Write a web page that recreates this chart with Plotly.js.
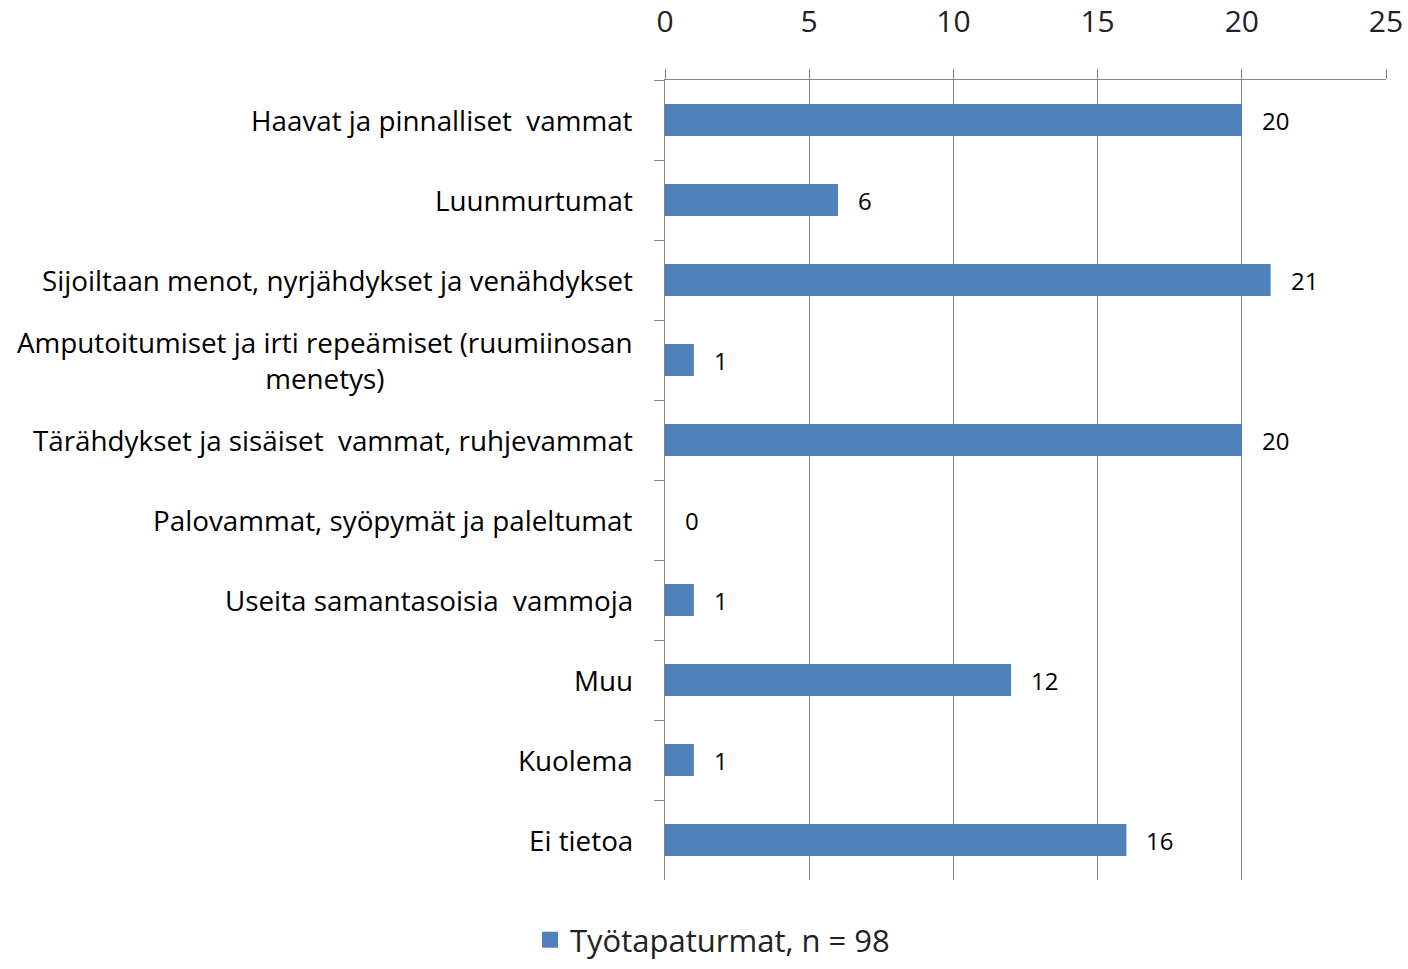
<!DOCTYPE html>
<html>
<head>
<meta charset="utf-8">
<script src="https://cdn.plot.ly/plotly-3.0.1.min.js"></script>
<style>html,body{margin:0;padding:0;background:#fff;}#chart{width:1408px;height:969px;}</style>
</head>
<body>
<div id="chart"></div>
<script>
const categories = [
  "Haavat ja pinnalliset  vammat",
  "Luunmurtumat",
  "Sijoiltaan menot, nyrjähdykset ja venähdykset",
  "Amputoitumiset ja irti repeämiset (ruumiinosan<br>menetys)",
  "Tärähdykset ja sisäiset  vammat, ruhjevammat",
  "Palovammat, syöpymät ja paleltumat",
  "Useita samantasoisia  vammoja",
  "Muu",
  "Kuolema",
  "Ei tietoa"
];
const values = [20, 6, 21, 1, 20, 0, 1, 12, 1, 16];
const seriesName = "Työtapaturmat, n = 98";
const xTicks = [0, 5, 10, 15, 20, 25];

const FONT = "Open Sans, Liberation Sans, sans-serif";
const GRID = "#868686";
const BLUE = "#4F81BD";

const trace = {
  type: "bar",
  orientation: "h",
  x: values,
  y: categories,
  name: seriesName,
  width: 0.4,
  marker: {color: BLUE, line: {width: 0}},
  hoverinfo: "skip",
  showlegend: false
};

// legend-only entry (square swatch like the reference legend)
const legendEntry = {
  type: "scatter", mode: "markers",
  x: [null], y: [null],
  name: seriesName,
  marker: {symbol: "square", size: 20, color: BLUE},
  hoverinfo: "skip",
  showlegend: true
};

const annotations = [];
categories.forEach((c, i) => {
  annotations.push({
    xref: "paper", yref: "y", x: 0, y: c,
    xanchor: "right", yanchor: "middle", xshift: -30,
    align: "center", showarrow: false, text: c,
    font: {family: FONT, size: 27.8, color: "#000"}
  });
  annotations.push({
    xref: "x", yref: "y", x: values[i], y: c,
    xanchor: "left", yanchor: "middle", xshift: 18,
    showarrow: false, text: String(values[i]),
    font: {family: FONT, size: 24, color: "#000"}
  });
});

const layout = {
  width: 1408, height: 969,
  margin: {l: 665, r: 22, t: 80, b: 89, pad: 0},
  paper_bgcolor: "#fff", plot_bgcolor: "#fff",
  font: {family: FONT, color: "#000"},
  xaxis: {
    side: "top", range: [0, 25], tickvals: xTicks, ticktext: xTicks.map(String),
    ticks: "outside", ticklen: 10, tickwidth: 1, tickcolor: GRID,
    showline: true, linecolor: GRID, linewidth: 1,
    showgrid: true, gridcolor: GRID, gridwidth: 1, zeroline: false,
    tickfont: {family: FONT, size: 30, color: "#222"},
    ticklabelstandoff: 25, fixedrange: true
  },
  yaxis: {
    type: "category", autorange: "reversed",
    showline: true, linecolor: GRID, linewidth: 1,
    ticks: "outside", tickson: "boundaries", ticklen: 10, tickcolor: GRID,
    showticklabels: false, showgrid: false, zeroline: false, fixedrange: true
  },
  showlegend: true,
  legend: {
    orientation: "h", xref: "container", yref: "container",
    x: 530/1408, y: 0.002, xanchor: "left", yanchor: "bottom",
    font: {family: FONT, size: 31, color: "#222"}, bgcolor: "rgba(0,0,0,0)",
    itemsizing: "trace", borderwidth: 0
  },
  annotations: annotations,
  bargap: 0.6
};

Plotly.newPlot("chart", [trace, legendEntry], layout, {displayModeBar: false, staticPlot: true});
</script>
</body>
</html>
